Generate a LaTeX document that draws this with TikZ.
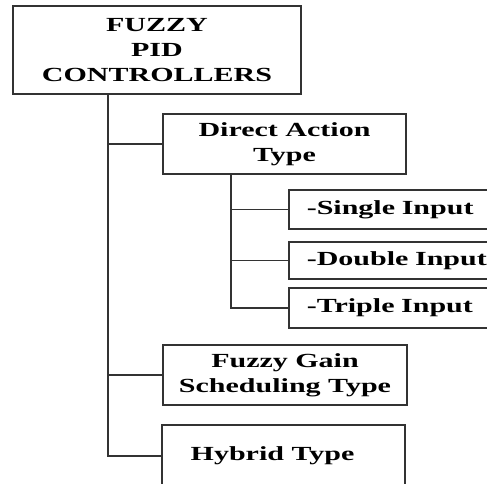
\documentclass[tikz,border=0pt]{standalone}
\usepackage{fontspec}
\newfontfamily\boxfont[FakeStretch=1.5]{Liberation Serif}
\tikzset{
    box/.style={draw=black!80, line width=1.6pt, rectangle, align=center,
        inner sep=0pt, font=\boxfont\bfseries\fontsize{20}{25}\selectfont},
    inputbox/.style={box, anchor=west, align=left, inner xsep=18pt,
        minimum width=240pt, text width=204pt},
    link/.style={draw=black!80, line width=1.6pt}
}
\begin{document}
\begin{tikzpicture}[x=1pt,y=-1pt]
        \useasboundingbox (0,0) rectangle (487,484);
        \clip (0,0) rectangle (487,484);
        %% main boxes
        \node[box, minimum width=288pt, minimum height=88pt] (top) at (157,50)
            {FUZZY\\PID\\CONTROLLERS};
        \node[box, minimum width=243pt, minimum height=60pt] (direct) at (284.5,144)
            {Direct Action\\Type};
        \node[box, minimum width=244pt, minimum height=60pt] (gain) at (285,375)
            {Fuzzy Gain\\Scheduling Type};
        \node[box, minimum width=243pt, minimum height=62pt] (hybrid) at (283.5,456)
            {\hspace*{-22pt}Hybrid Type};
        %% input boxes
        \foreach \name/\txt/\y/\h in {single/-Single Input/209.5/39,
                double/-Double Input/260.5/37, triple/-Triple Input/308/40}
            \node[inputbox, minimum height=\h pt] (\name) at (288,\y) {\txt};
        %% trunks
        \coordinate (trunk) at (top.south -| 108,0);
        \coordinate (sub) at (direct.south -| 231,0);
        \draw[link] (trunk) |- (hybrid.west);
        \foreach \n in {direct,gain}
            \draw[link] (trunk |- \n.west) -- (\n.west);
        \draw[link] (sub) |- (triple.west);
        \foreach \n in {single,double}
            \draw[link] (sub |- \n.west) -- (\n.west);
    \end{tikzpicture}
\end{document}
